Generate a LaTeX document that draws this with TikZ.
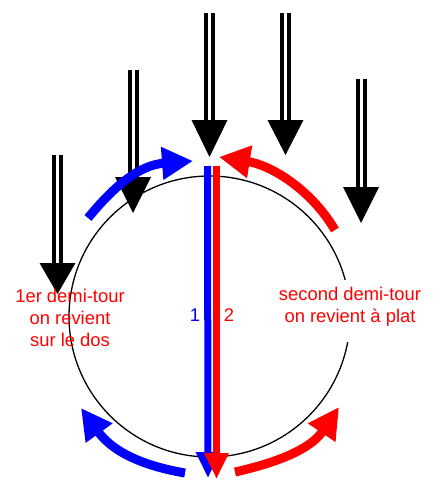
\documentclass[tikz,border=0pt]{standalone}
\usepackage{fontspec}
\setmainfont{Liberation Sans}
\usepackage{tikz}
\usetikzlibrary{arrows.meta}

\begin{document}
\begin{tikzpicture}[x=1pt,y=-1pt]
\tikzstyle{shaft}=[line width=4pt, double=white, double distance=3pt]
\tikzstyle{turn}=[line width=9pt, -{Triangle[length=31pt,width=31pt]}]
\tikzstyle{bar}=[line width=7pt, -{Triangle[length=26pt,width=23pt]}]
\tikzstyle{txt}=[font=\fontsize{18.4}{22}\selectfont, align=center]
  \useasboundingbox (0,0) rectangle (444,500);
  % falling arrows
  \foreach \x/\ytop/\ybase/\ytip in {57.5/155/263/294, 133/70/177/213, 209.5/13/120/157, 285.5/13/120/155, 361/79/187/223}{
    \draw[shaft] (\x,\ytop) -- (\x,\ybase+2);
    \fill (\x-18,\ybase) -- (\x+18,\ybase) -- (\x,\ytip) -- cycle;
  }
  % the loop
  \node[draw, circle, line width=1.3pt, minimum size=281pt, inner sep=0pt] (loop) at (209.5,316.5) {};
  % labels
  \node[txt, text=red] (firsttxt) at (70,317.5) {1er demi-tour\\on revient\\sur le dos};
  \node[txt, text=red, fill=white, inner xsep=4pt, inner ysep=7.5pt] (secondtxt) at (350,311) {second demi-tour\\on revient \`a plat\rule[-12pt]{0pt}{0pt}};
  \node[txt, text=blue, anchor=base] (onenode) at (195,321) {1};
  \node[txt, text=red, anchor=base] (twonode) at (229,321) {2};
  % vertical bars
  \coordinate (bluetop) at (207.5,166);
  \coordinate (bluebot) at (208,478);
  \coordinate (redtop) at (216.5,166);
  \coordinate (redbot) at (216.5,479);
  \draw[bar, blue] (bluetop) -- (bluebot);
  \draw[bar, red] (redtop) -- (redbot);
  % turning arrows
  \coordinate (bluestartA) at (88,218);
  \coordinate (blueendA) at (193,161);
  \coordinate (redstartA) at (335,230);
  \coordinate (redendA) at (219,157);
  \coordinate (bluestartB) at (185,473);
  \coordinate (blueendB) at (81,408);
  \coordinate (redstartB) at (235,472);
  \coordinate (redendB) at (339,407);
  \draw[turn, blue] (bluestartA) .. controls (115,185) and (140,165) .. (blueendA);
  \draw[turn, red] (redstartA) .. controls (310,188) and (270,165) .. (redendA);
  \draw[turn, blue] (bluestartB) .. controls (150,467) and (115,455) .. (blueendB);
  \draw[turn, red] (redstartB) .. controls (275,463) and (310,450) .. (redendB);
\end{tikzpicture}
\end{document}
